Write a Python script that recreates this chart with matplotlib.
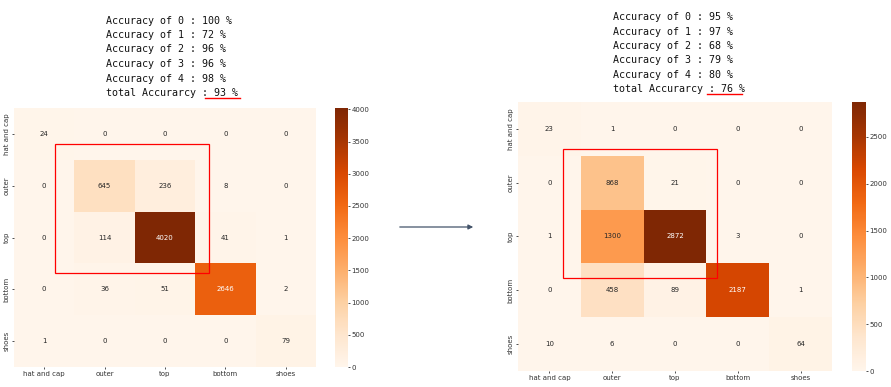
"""Matriz de confusión antes / después, con las accuracy por clase encima."""

import numpy as np
import matplotlib
matplotlib.use("Agg")
import matplotlib.pyplot as plt
import matplotlib.patches as patches
import seaborn as sns

classes = ["hat and cap", "outer", "top", "bottom", "shoes"]

cm_before = np.array([
    [24, 0, 0, 0, 0],
    [0, 645, 236, 8, 0],
    [0, 114, 4020, 41, 1],
    [0, 36, 51, 2646, 2],
    [1, 0, 0, 0, 79],
])
cm_after = np.array([
    [23, 1, 0, 0, 0],
    [0, 868, 21, 0, 0],
    [1, 1300, 2872, 3, 0],
    [0, 458, 89, 2187, 1],
    [10, 6, 0, 0, 64],
])

acc_before = [100, 72, 96, 96, 98]
acc_after = [95, 97, 68, 79, 80]
total_before = 93
total_after = 76

W, H = 891, 387


def px(x, y, w, h):
    # rectángulo en píxeles (origen arriba-izquierda) -> coords de figura
    return [x / W, 1 - (y + h) / H, w / W, h / H]


fig = plt.figure(figsize=(W / 100, H / 100), dpi=100)


def draw_cm(cm, ax_box, cax_box, rect, ticks):
    ax = fig.add_axes(px(*ax_box))
    cax = fig.add_axes(px(*cax_box))
    sns.heatmap(cm, annot=True, fmt="d", cmap="Oranges", ax=ax, cbar_ax=cax,
                xticklabels=classes, yticklabels=classes,
                annot_kws={"fontsize": 5})
    ax.tick_params(labelsize=5, length=1.5, width=0.6, pad=1.5, colors="#333333")
    ax.set_yticklabels(classes, rotation=90, va="center", fontsize=5)
    cax.tick_params(labelsize=5, length=1.5, width=0.6, pad=1, colors="#333333")
    cax.set_yticks(ticks)
    x0, y0, x1, y1 = rect
    ax.add_patch(patches.Rectangle((x0, y0), x1 - x0, y1 - y0, fill=False,
                                   edgecolor="red", linewidth=0.9,
                                   clip_on=False, zorder=5))


draw_cm(cm_before, (14, 108, 302, 259), (335, 108, 13, 259),
        (0.68, 0.69, 3.23, 3.19), range(0, 4001, 500))
draw_cm(cm_after, (518, 102, 314, 269), (852, 102, 14, 269),
        (0.72, 0.87, 3.17, 3.27), range(0, 2501, 500))


def draw_text(x, y0, dy, accs, total, ul):
    lines = ["Accuracy of %d : %d %%" % (i, a) for i, a in enumerate(accs)]
    lines.append("total Accurarcy : %d %%" % total)
    for i, s in enumerate(lines):
        fig.text(x / W, 1 - (y0 + i * dy) / H, s, family="DejaVu Sans Mono",
                 fontsize=7.2, va="center", ha="left", color="#111111")
    ux0, ux1, uy = ul
    fig.add_artist(plt.Line2D([ux0 / W, ux1 / W], [1 - uy / H, 1 - uy / H],
                              color="red", linewidth=1.0))


draw_text(106, 20.5, 14.5, acc_before, total_before, (205, 240, 98))
draw_text(613, 17.5, 14.3, acc_after, total_after, (707, 742, 94))

fig.add_artist(patches.FancyArrowPatch((397 / W, 1 - 227 / H), (476 / W, 1 - 227 / H),
                                       transform=fig.transFigure,
                                       arrowstyle="-|>", mutation_scale=7,
                                       color="#44546a", linewidth=0.9))

fig.savefig("out.png", dpi=100)
plt.close(fig)
